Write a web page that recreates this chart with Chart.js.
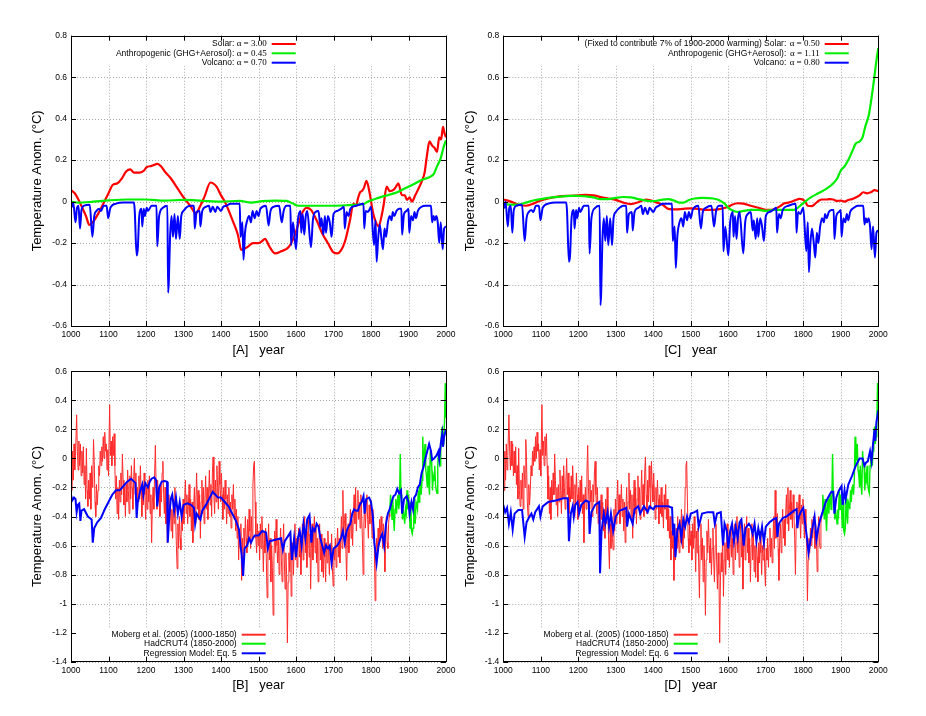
<!DOCTYPE html>
<html>
<head>
<meta charset="utf-8">
<script src="https://cdn.jsdelivr.net/npm/chart.js@4.4.1/dist/chart.umd.min.js"></script>
<style>
  body { margin: 0; background: #fff; width: 926px; height: 716px; position: relative; overflow: hidden; }
  canvas { position: absolute; }
</style>
</head>
<body>
<canvas id="panelA" width="463" height="358" style="left:0;top:0"></canvas>
<canvas id="panelC" width="463" height="358" style="left:463px;top:0"></canvas>
<canvas id="panelB" width="463" height="358" style="left:0;top:358px"></canvas>
<canvas id="panelD" width="463" height="358" style="left:463px;top:358px"></canvas>
<script>
// Axis ticks
const xTicks = [1000, 1100, 1200, 1300, 1400, 1500, 1600, 1700, 1800, 1900, 2000];
const yTicksTop = [-0.6, -0.4, -0.2, 0, 0.2, 0.4, 0.6, 0.8];
const yTicksBottom = [-1.4, -1.2, -1, -0.8, -0.6, -0.4, -0.2, 0, 0.2, 0.4, 0.6];

// Panel A forcings (alpha-scaled), [year, value]
const solarA = [[1000,0.055],[1010,0.04],[1018,0.016],[1030,-0.03],[1040,-0.07],[1049,-0.113],[1062,-0.09],[1075,-0.05],[1089,0.0],[1100,0.04],[1111,0.08],[1124,0.088],[1135,0.11],[1147,0.145],[1158,0.155],[1168,0.14],[1183,0.14],[1195,0.15],[1201,0.165],[1215,0.172],[1231,0.182],[1240,0.17],[1250,0.145],[1265,0.115],[1284,0.064],[1302,0.016],[1318,-0.02],[1333,-0.056],[1345,-0.02],[1356,0.024],[1372,0.092],[1388,0.072],[1400,0.03],[1410,0.0],[1432,-0.096],[1445,-0.16],[1454,-0.233],[1472,-0.217],[1485,-0.2],[1500,-0.2],[1510,-0.19],[1517,-0.18],[1530,-0.22],[1544,-0.25],[1560,-0.24],[1580,-0.22],[1595,-0.17],[1606,-0.11],[1615,-0.06],[1628,-0.03],[1640,-0.04],[1655,-0.09],[1669,-0.15],[1685,-0.2],[1700,-0.245],[1710,-0.25],[1720,-0.235],[1731,-0.19],[1744,-0.09],[1753,-0.01],[1760,-0.02],[1766,0.02],[1771,0.045],[1775,0.05],[1781,0.065],[1788,0.1],[1797,0.035],[1805,-0.05],[1811,-0.09],[1820,-0.12],[1827,-0.08],[1833,-0.024],[1842,0.072],[1850,0.05],[1860,0.056],[1866,0.07],[1873,0.088],[1882,0.032],[1890,0.03],[1896,0.008],[1903,0.02],[1909,0.0],[1918,0.03],[1926,0.06],[1936,0.1],[1943,0.14],[1949,0.22],[1956,0.29],[1963,0.27],[1969,0.26],[1976,0.24],[1982,0.31],[1987,0.3],[1992,0.36],[1996,0.33],[2000,0.31]];
const anthroA = [[1000,0.0],[1020,-0.005],[1060,0.0],[1100,0.006],[1150,0.01],[1200,0.01],[1250,0.005],[1300,0.008],[1350,0.004],[1400,0.0],[1450,0.003],[1480,-0.005],[1510,0.002],[1544,0.005],[1575,0.003],[1590,-0.008],[1606,-0.02],[1640,-0.02],[1700,-0.02],[1750,-0.016],[1780,-0.012],[1792,0.0],[1820,0.018],[1846,0.032],[1870,0.045],[1891,0.064],[1915,0.085],[1936,0.105],[1958,0.12],[1968,0.135],[1976,0.17],[1986,0.21],[1994,0.265],[2000,0.295]];

// Panel C forcings, [year, value]
const solarC = [[1000,0.01],[1020,0.0],[1040,-0.015],[1060,-0.02],[1080,-0.01],[1100,0.005],[1120,0.015],[1150,0.025],[1180,0.028],[1200,0.03],[1220,0.032],[1240,0.03],[1260,0.022],[1280,0.015],[1300,0.008],[1320,-0.005],[1340,-0.012],[1360,-0.003],[1380,0.01],[1395,0.005],[1410,-0.005],[1425,-0.015],[1440,-0.035],[1460,-0.038],[1480,-0.035],[1500,-0.033],[1520,-0.035],[1540,-0.04],[1560,-0.04],[1580,-0.035],[1600,-0.025],[1610,-0.015],[1625,-0.008],[1640,-0.01],[1660,-0.02],[1680,-0.03],[1700,-0.04],[1715,-0.04],[1725,-0.035],[1740,-0.02],[1750,-0.008],[1760,-0.005],[1770,0.0],[1780,0.008],[1790,0.013],[1798,0.01],[1805,0.0],[1812,-0.02],[1822,-0.022],[1832,-0.01],[1842,0.005],[1850,0.01],[1860,0.01],[1870,0.012],[1880,0.01],[1890,0.003],[1900,0.005],[1910,0.0],[1920,0.008],[1930,0.012],[1940,0.02],[1950,0.03],[1960,0.045],[1970,0.04],[1980,0.045],[1990,0.055],[2000,0.05]];
const anthroC = [[1000,-0.01],[1020,-0.015],[1040,-0.015],[1060,-0.005],[1080,0.005],[1100,0.012],[1130,0.02],[1160,0.025],[1180,0.028],[1200,0.028],[1220,0.025],[1240,0.02],[1260,0.012],[1280,0.012],[1300,0.018],[1320,0.022],[1340,0.02],[1360,0.012],[1380,0.005],[1400,0.002],[1420,0.008],[1440,0.012],[1455,0.005],[1470,-0.005],[1480,-0.005],[1495,0.008],[1510,0.015],[1530,0.018],[1560,0.015],[1575,0.008],[1590,-0.01],[1600,-0.03],[1615,-0.045],[1625,-0.05],[1640,-0.045],[1660,-0.04],[1680,-0.04],[1700,-0.045],[1720,-0.04],[1740,-0.04],[1760,-0.04],[1775,-0.04],[1785,-0.03],[1795,-0.015],[1805,0.0],[1820,0.02],[1840,0.04],[1860,0.06],[1875,0.08],[1890,0.11],[1900,0.15],[1910,0.17],[1920,0.2],[1930,0.24],[1940,0.28],[1950,0.29],[1958,0.31],[1965,0.36],[1975,0.42],[1982,0.5],[1988,0.58],[1995,0.68],[2000,0.74]];

// Volcanic forcing: shared years, values for panel A (alpha 0.70) and panel C (alpha 0.80)
const volcanoYears = [1000,1003,1006,1012,1016,1020,1024,1028,1035,1050,1057,1062,1068,1075,1080,1087,1095,1099,1105,1120,1140,1168,1170,1175,1178,1182,1188,1190,1194,1197,1202,1205,1215,1228,1230,1235,1245,1257,1259,1261,1264,1268,1272,1276,1280,1285,1290,1294,1300,1310,1320,1328,1330,1335,1343,1345,1350,1360,1368,1372,1378,1385,1390,1400,1406,1415,1425,1450,1452,1457,1460,1464,1470,1475,1480,1484,1490,1495,1500,1505,1520,1527,1532,1540,1555,1562,1567,1575,1585,1587,1592,1600,1605,1612,1614,1618,1622,1626,1630,1640,1645,1652,1660,1665,1668,1673,1677,1680,1685,1690,1695,1700,1710,1720,1728,1730,1735,1740,1745,1760,1780,1782,1786,1792,1800,1808,1812,1815,1819,1823,1828,1832,1836,1840,1845,1850,1855,1858,1862,1868,1875,1881,1883,1888,1895,1900,1902,1907,1912,1916,1920,1925,1935,1945,1960,1963,1967,1970,1974,1978,1982,1986,1991,1995,2000];
const volcanoA = [-0.005,-0.025,-0.005,-0.1,-0.03,-0.02,-0.13,-0.04,-0.02,-0.015,-0.17,-0.07,-0.045,-0.035,-0.045,-0.02,-0.02,-0.08,-0.03,-0.01,-0.005,-0.005,-0.045,-0.26,-0.23,-0.07,-0.035,-0.12,-0.035,-0.07,-0.03,-0.045,-0.02,-0.02,-0.215,-0.07,-0.03,-0.02,-0.44,-0.38,-0.18,-0.07,-0.17,-0.06,-0.18,-0.07,-0.18,-0.07,-0.045,-0.025,-0.02,-0.02,-0.13,-0.05,-0.045,-0.12,-0.045,-0.025,-0.02,-0.05,-0.025,-0.05,-0.025,-0.045,-0.025,-0.02,-0.01,-0.01,-0.17,-0.1,-0.28,-0.15,-0.09,-0.07,-0.1,-0.045,-0.08,-0.045,-0.07,-0.035,-0.02,-0.115,-0.045,-0.025,-0.02,-0.1,-0.045,-0.02,-0.02,-0.21,-0.1,-0.23,-0.09,-0.045,-0.15,-0.06,-0.16,-0.07,-0.045,-0.22,-0.09,-0.05,-0.045,-0.12,-0.08,-0.16,-0.07,-0.15,-0.07,-0.1,-0.17,-0.06,-0.045,-0.035,-0.025,-0.13,-0.05,-0.07,-0.035,-0.02,-0.01,-0.13,-0.045,-0.05,-0.025,-0.21,-0.09,-0.29,-0.18,-0.11,-0.18,-0.23,-0.13,-0.17,-0.1,-0.07,-0.09,-0.05,-0.07,-0.045,-0.035,-0.035,-0.16,-0.06,-0.045,-0.035,-0.15,-0.07,-0.09,-0.05,-0.08,-0.045,-0.025,-0.02,-0.02,-0.1,-0.07,-0.09,-0.07,-0.1,-0.2,-0.1,-0.23,-0.13,-0.12];
const volcanoC = [-0.005,-0.03,0.0,-0.12,-0.03,-0.02,-0.15,-0.04,-0.02,-0.015,-0.19,-0.08,-0.05,-0.04,-0.05,-0.02,-0.02,-0.09,-0.03,-0.01,-0.005,-0.005,-0.05,-0.29,-0.26,-0.08,-0.04,-0.13,-0.04,-0.08,-0.03,-0.05,-0.02,-0.02,-0.25,-0.08,-0.03,-0.02,-0.5,-0.44,-0.2,-0.08,-0.19,-0.07,-0.21,-0.08,-0.21,-0.08,-0.05,-0.03,-0.02,-0.02,-0.15,-0.06,-0.05,-0.14,-0.05,-0.03,-0.02,-0.06,-0.03,-0.06,-0.03,-0.05,-0.03,-0.02,-0.01,-0.01,-0.19,-0.12,-0.32,-0.17,-0.1,-0.08,-0.12,-0.05,-0.09,-0.05,-0.08,-0.04,-0.02,-0.13,-0.05,-0.03,-0.02,-0.12,-0.05,-0.02,-0.02,-0.24,-0.12,-0.26,-0.1,-0.05,-0.17,-0.07,-0.18,-0.08,-0.05,-0.25,-0.1,-0.06,-0.05,-0.14,-0.09,-0.18,-0.08,-0.17,-0.08,-0.12,-0.19,-0.07,-0.05,-0.04,-0.03,-0.15,-0.06,-0.08,-0.04,-0.02,-0.01,-0.15,-0.05,-0.06,-0.03,-0.24,-0.1,-0.34,-0.2,-0.13,-0.2,-0.27,-0.15,-0.2,-0.12,-0.08,-0.1,-0.06,-0.08,-0.05,-0.04,-0.04,-0.18,-0.07,-0.05,-0.04,-0.17,-0.08,-0.1,-0.06,-0.09,-0.05,-0.03,-0.02,-0.02,-0.11,-0.08,-0.1,-0.08,-0.12,-0.23,-0.12,-0.27,-0.15,-0.14];

// Moberg et al. (2005) reconstruction, 1000-1850, [year, value]
const moberg = [[1000,-0.1],[1002,-0.22],[1004,0.05],[1006,-0.15],[1008,0.1],[1010,-0.08],[1012,0.02],[1015,0.3],[1017,0.05],[1019,-0.08],[1021,0.12],[1023,-0.05],[1025,0.1],[1027,-0.12],[1029,0.05],[1031,-0.1],[1033,0.08],[1035,-0.18],[1037,-0.05],[1039,-0.28],[1041,0.07],[1043,-0.22],[1045,-0.33],[1047,-0.15],[1049,-0.28],[1051,-0.1],[1053,-0.35],[1055,-0.05],[1058,-0.2],[1060,0.13],[1062,-0.02],[1064,-0.3],[1066,-0.4],[1068,-0.18],[1070,-0.32],[1072,-0.22],[1074,-0.05],[1076,-0.12],[1078,0.05],[1080,-0.05],[1082,0.08],[1084,-0.02],[1086,0.15],[1088,0.0],[1090,0.18],[1092,0.05],[1094,0.1],[1096,-0.08],[1098,0.06],[1100,-0.12],[1103,0.37],[1105,0.02],[1107,0.12],[1109,-0.05],[1111,0.15],[1113,0.02],[1115,0.17],[1117,-0.05],[1119,-0.28],[1121,-0.12],[1123,-0.38],[1125,-0.2],[1127,-0.42],[1129,-0.15],[1131,-0.3],[1133,-0.1],[1135,-0.25],[1137,0.03],[1139,-0.15],[1141,-0.32],[1143,-0.2],[1145,-0.4],[1147,-0.18],[1149,-0.3],[1151,-0.08],[1153,-0.22],[1155,-0.38],[1157,-0.12],[1159,-0.28],[1161,-0.05],[1163,-0.2],[1165,-0.35],[1167,-0.15],[1169,0.0],[1171,-0.25],[1173,-0.1],[1175,-0.38],[1177,-0.2],[1179,-0.3],[1181,-0.12],[1183,-0.28],[1185,-0.05],[1187,-0.22],[1189,-0.4],[1191,-0.18],[1193,-0.32],[1195,-0.1],[1197,-0.25],[1199,-0.42],[1201,-0.2],[1203,-0.35],[1205,-0.15],[1207,-0.3],[1209,-0.12],[1211,-0.38],[1213,-0.25],[1215,-0.58],[1217,-0.3],[1219,-0.2],[1221,-0.35],[1223,-0.1],[1225,0.09],[1227,-0.2],[1229,-0.35],[1231,-0.15],[1233,-0.3],[1235,-0.22],[1237,-0.4],[1239,-0.18],[1241,-0.3],[1243,-0.1],[1245,-0.02],[1247,-0.25],[1249,-0.38],[1251,-0.2],[1253,-0.45],[1255,-0.3],[1257,-0.58],[1259,-0.35],[1261,-0.25],[1263,-0.42],[1265,-0.3],[1267,-0.5],[1269,-0.35],[1271,-0.55],[1273,-0.28],[1275,-0.45],[1277,-0.2],[1279,-0.38],[1281,-0.6],[1283,-0.76],[1285,-0.45],[1287,-0.62],[1289,-0.4],[1291,-0.55],[1293,-0.63],[1295,-0.35],[1297,-0.5],[1299,-0.28],[1301,-0.45],[1303,-0.3],[1305,-0.15],[1307,-0.38],[1309,-0.25],[1311,-0.45],[1313,-0.32],[1315,-0.18],[1317,-0.4],[1319,-0.28],[1321,-0.5],[1323,-0.3],[1325,-0.58],[1327,-0.35],[1329,-0.2],[1331,-0.45],[1333,-0.3],[1335,-0.1],[1337,-0.35],[1339,-0.22],[1341,-0.42],[1343,-0.25],[1345,-0.55],[1347,-0.3],[1349,-0.15],[1351,-0.38],[1353,-0.2],[1355,-0.45],[1357,-0.28],[1359,-0.12],[1361,-0.35],[1363,-0.2],[1365,-0.42],[1367,-0.25],[1369,-0.08],[1371,-0.32],[1373,-0.18],[1375,-0.4],[1377,-0.1],[1379,0.01],[1381,-0.25],[1383,-0.38],[1385,-0.15],[1387,-0.3],[1389,-0.05],[1391,-0.2],[1393,-0.35],[1395,-0.02],[1397,-0.18],[1399,-0.3],[1401,-0.1],[1403,-0.25],[1405,-0.42],[1407,-0.2],[1409,-0.35],[1411,-0.15],[1413,-0.28],[1415,-0.45],[1417,-0.25],[1419,-0.38],[1421,-0.2],[1423,-0.4],[1425,-0.3],[1427,-0.48],[1429,-0.25],[1431,-0.35],[1433,-0.18],[1435,-0.42],[1437,-0.28],[1439,-0.5],[1441,-0.35],[1443,-0.55],[1445,-0.4],[1447,-0.7],[1449,-0.5],[1451,-0.62],[1453,-0.45],[1455,-0.84],[1457,-0.55],[1459,-0.7],[1461,-0.48],[1463,-0.62],[1465,-0.4],[1467,-0.55],[1469,-0.65],[1471,-0.42],[1473,-0.58],[1475,-0.35],[1477,-0.5],[1479,-0.62],[1481,-0.4],[1483,-0.55],[1485,-0.2],[1487,-0.05],[1489,-0.02],[1491,-0.3],[1493,-0.55],[1495,-0.65],[1497,-0.45],[1499,-0.6],[1501,-0.5],[1503,-0.7],[1505,-0.45],[1507,-0.62],[1509,-0.4],[1511,-0.55],[1513,-0.78],[1515,-0.5],[1517,-0.65],[1519,-0.48],[1521,-0.72],[1523,-0.96],[1525,-0.6],[1527,-0.45],[1529,-0.7],[1531,-0.55],[1533,-0.85],[1535,-0.6],[1537,-0.75],[1539,-1.08],[1541,-0.7],[1543,-0.5],[1545,-0.65],[1547,-0.42],[1549,-0.6],[1551,-0.72],[1553,-0.55],[1555,-0.8],[1557,-0.62],[1559,-0.48],[1561,-0.7],[1563,-0.85],[1565,-0.6],[1567,-0.45],[1569,-0.72],[1571,-0.9],[1573,-0.65],[1575,-0.8],[1577,-1.27],[1579,-0.85],[1581,-0.65],[1583,-0.78],[1585,-0.5],[1587,-0.95],[1589,-0.7],[1591,-0.58],[1593,-0.8],[1595,-0.62],[1597,-0.45],[1599,-0.7],[1601,-0.55],[1603,-0.75],[1605,-0.6],[1607,-0.48],[1609,-0.68],[1611,-0.55],[1613,-0.8],[1615,-0.62],[1617,-0.45],[1619,-0.7],[1621,-0.58],[1623,-0.4],[1625,-0.65],[1627,-0.5],[1629,-0.75],[1631,-0.55],[1633,-0.42],[1635,-0.68],[1637,-0.52],[1639,-0.9],[1641,-0.62],[1643,-0.45],[1645,-0.7],[1647,-0.55],[1649,-0.4],[1651,-0.65],[1653,-0.48],[1655,-0.72],[1657,-0.55],[1659,-0.85],[1661,-0.6],[1663,-0.45],[1665,-0.7],[1667,-0.52],[1669,-0.78],[1671,-0.6],[1673,-0.82],[1675,-0.55],[1677,-0.68],[1679,-0.85],[1681,-0.58],[1683,-0.72],[1685,-0.5],[1687,-0.65],[1689,-0.8],[1691,-0.6],[1693,-0.7],[1695,-0.52],[1697,-0.75],[1699,-0.88],[1701,-0.62],[1703,-0.7],[1705,-0.55],[1707,-0.75],[1709,-0.6],[1711,-0.48],[1713,-0.68],[1715,-0.55],[1717,-0.72],[1719,-0.58],[1721,-0.4],[1723,-0.62],[1725,-0.22],[1727,-0.55],[1729,-0.45],[1731,-0.38],[1733,-0.62],[1735,-0.84],[1737,-0.55],[1739,-0.45],[1741,-0.65],[1743,-0.5],[1745,-0.35],[1747,-0.55],[1749,-0.42],[1751,-0.6],[1753,-0.38],[1755,-0.25],[1757,-0.45],[1759,-0.2],[1761,-0.5],[1763,-0.35],[1765,-0.22],[1767,-0.42],[1769,-0.3],[1771,-0.48],[1773,-0.25],[1775,-0.38],[1777,-0.55],[1779,-0.8],[1781,-0.45],[1783,-0.3],[1785,-0.48],[1787,-0.35],[1789,-0.25],[1791,-0.42],[1793,-0.55],[1795,-0.32],[1797,-0.45],[1799,-0.28],[1801,-0.4],[1803,-0.55],[1805,-0.35],[1807,-0.48],[1809,-0.62],[1811,-0.98],[1813,-0.7],[1815,-0.55],[1817,-0.65],[1819,-0.48],[1821,-0.6],[1823,-0.42],[1825,-0.55],[1827,-0.4],[1829,-0.5],[1831,-0.62],[1833,-0.45],[1835,-0.55],[1837,-0.78],[1839,-0.52],[1841,-0.4],[1843,-0.58],[1845,-0.62],[1847,-0.45],[1849,-0.38],[1850,-0.4]];

// HadCRUT4 instrumental record, 1850-2000, [year, value]
const hadcrut = [[1850,-0.38],[1852,-0.25],[1854,-0.32],[1856,-0.42],[1858,-0.28],[1860,-0.4],[1862,-0.5],[1864,-0.35],[1866,-0.28],[1868,-0.38],[1870,-0.3],[1872,-0.25],[1874,-0.35],[1876,-0.3],[1878,0.03],[1880,-0.25],[1882,-0.3],[1884,-0.42],[1886,-0.35],[1888,-0.4],[1890,-0.45],[1892,-0.35],[1894,-0.38],[1896,-0.22],[1898,-0.35],[1900,-0.25],[1902,-0.35],[1904,-0.48],[1906,-0.3],[1908,-0.5],[1910,-0.52],[1912,-0.48],[1914,-0.28],[1916,-0.38],[1918,-0.45],[1920,-0.3],[1922,-0.32],[1924,-0.35],[1926,-0.22],[1928,-0.3],[1930,-0.2],[1932,-0.18],[1934,-0.25],[1936,-0.15],[1938,0.15],[1940,-0.02],[1942,0.0],[1944,0.1],[1946,-0.08],[1948,-0.12],[1950,-0.2],[1952,-0.05],[1954,-0.18],[1956,-0.25],[1958,0.05],[1960,-0.02],[1962,-0.05],[1964,-0.22],[1966,-0.12],[1968,-0.15],[1970,-0.05],[1972,-0.18],[1974,-0.22],[1976,-0.24],[1978,-0.05],[1980,0.05],[1982,0.0],[1984,-0.05],[1986,0.05],[1988,0.18],[1990,0.22],[1992,0.1],[1994,0.15],[1996,0.25],[1998,0.52],[2000,0.28]];

// Regression model, Eq. 5 (panel B), [year, value]
const modelEq5 = [[1000,-0.25],[1003,-0.29],[1008,-0.27],[1012,-0.28],[1015,-0.37],[1018,-0.32],[1022,-0.31],[1025,-0.43],[1028,-0.36],[1035,-0.35],[1045,-0.4],[1055,-0.42],[1058,-0.58],[1062,-0.48],[1070,-0.44],[1080,-0.41],[1090,-0.35],[1100,-0.3],[1110,-0.25],[1120,-0.22],[1130,-0.22],[1140,-0.19],[1150,-0.16],[1160,-0.14],[1168,-0.16],[1172,-0.17],[1175,-0.41],[1178,-0.3],[1185,-0.22],[1190,-0.18],[1193,-0.25],[1198,-0.17],[1205,-0.2],[1210,-0.16],[1215,-0.14],[1222,-0.13],[1227,-0.15],[1230,-0.33],[1235,-0.2],[1242,-0.16],[1250,-0.155],[1256,-0.16],[1258,-0.58],[1262,-0.4],[1266,-0.28],[1270,-0.25],[1275,-0.36],[1280,-0.27],[1285,-0.38],[1290,-0.3],[1295,-0.4],[1300,-0.32],[1310,-0.31],[1320,-0.32],[1328,-0.34],[1331,-0.45],[1335,-0.38],[1345,-0.42],[1350,-0.36],[1360,-0.32],[1370,-0.27],[1378,-0.23],[1385,-0.25],[1392,-0.27],[1400,-0.27],[1410,-0.3],[1420,-0.33],[1430,-0.38],[1440,-0.43],[1448,-0.49],[1452,-0.6],[1455,-0.66],[1459,-0.81],[1463,-0.62],[1470,-0.6],[1475,-0.55],[1480,-0.58],[1485,-0.55],[1490,-0.53],[1500,-0.53],[1510,-0.5],[1520,-0.51],[1525,-0.62],[1530,-0.57],[1545,-0.56],[1560,-0.55],[1565,-0.63],[1570,-0.57],[1580,-0.53],[1585,-0.51],[1589,-0.7],[1595,-0.55],[1600,-0.68],[1605,-0.55],[1610,-0.5],[1615,-0.6],[1620,-0.45],[1625,-0.55],[1630,-0.42],[1636,-0.39],[1641,-0.58],[1645,-0.48],[1650,-0.5],[1655,-0.45],[1660,-0.47],[1665,-0.55],[1670,-0.6],[1675,-0.65],[1680,-0.6],[1685,-0.62],[1690,-0.6],[1695,-0.72],[1700,-0.62],[1710,-0.6],[1715,-0.58],[1720,-0.55],[1725,-0.5],[1730,-0.58],[1735,-0.5],[1740,-0.47],[1745,-0.45],[1750,-0.38],[1755,-0.35],[1760,-0.36],[1765,-0.36],[1770,-0.32],[1775,-0.3],[1780,-0.26],[1783,-0.38],[1787,-0.28],[1795,-0.27],[1800,-0.3],[1805,-0.4],[1809,-0.58],[1815,-0.72],[1820,-0.6],[1825,-0.55],[1830,-0.52],[1835,-0.6],[1840,-0.45],[1845,-0.38],[1850,-0.35],[1855,-0.3],[1860,-0.26],[1865,-0.25],[1870,-0.21],[1875,-0.24],[1880,-0.22],[1883,-0.38],[1888,-0.28],[1895,-0.26],[1900,-0.3],[1903,-0.38],[1908,-0.3],[1912,-0.35],[1915,-0.27],[1920,-0.25],[1925,-0.2],[1930,-0.18],[1935,-0.1],[1940,-0.06],[1945,0.0],[1950,0.05],[1955,0.1],[1960,0.05],[1963,-0.01],[1968,0.0],[1975,0.02],[1980,0.05],[1982,0.0],[1986,0.1],[1990,0.17],[1992,0.08],[1995,0.15],[2000,0.2]];

// Regression model, Eq. 6 (panel D), [year, value]
const modelEq6 = [[1000,-0.32],[1005,-0.37],[1010,-0.34],[1015,-0.45],[1020,-0.37],[1025,-0.49],[1030,-0.38],[1040,-0.355],[1050,-0.355],[1057,-0.54],[1062,-0.44],[1070,-0.4],[1075,-0.38],[1080,-0.42],[1085,-0.37],[1095,-0.33],[1099,-0.4],[1105,-0.33],[1120,-0.3],[1140,-0.29],[1160,-0.275],[1172,-0.275],[1175,-0.57],[1180,-0.38],[1185,-0.33],[1188,-0.4],[1192,-0.32],[1198,-0.3],[1202,-0.38],[1208,-0.32],[1220,-0.29],[1228,-0.3],[1230,-0.52],[1235,-0.37],[1245,-0.32],[1256,-0.3],[1258,-0.79],[1262,-0.5],[1268,-0.38],[1272,-0.45],[1278,-0.37],[1282,-0.47],[1287,-0.38],[1293,-0.5],[1300,-0.4],[1310,-0.36],[1320,-0.35],[1328,-0.34],[1330,-0.47],[1335,-0.38],[1345,-0.45],[1350,-0.35],[1360,-0.33],[1365,-0.38],[1375,-0.33],[1385,-0.37],[1390,-0.33],[1400,-0.35],[1405,-0.33],[1420,-0.33],[1440,-0.33],[1450,-0.34],[1453,-0.53],[1456,-0.45],[1459,-0.68],[1464,-0.5],[1470,-0.45],[1475,-0.55],[1480,-0.42],[1485,-0.47],[1490,-0.4],[1495,-0.44],[1500,-0.38],[1510,-0.37],[1517,-0.36],[1521,-0.47],[1530,-0.38],[1545,-0.37],[1560,-0.37],[1564,-0.45],[1570,-0.38],[1580,-0.37],[1586,-0.6],[1590,-0.45],[1596,-0.5],[1600,-0.62],[1605,-0.5],[1610,-0.45],[1615,-0.57],[1620,-0.47],[1625,-0.55],[1630,-0.44],[1635,-0.42],[1641,-0.6],[1646,-0.48],[1655,-0.45],[1660,-0.47],[1665,-0.52],[1670,-0.45],[1675,-0.57],[1680,-0.48],[1685,-0.55],[1690,-0.47],[1695,-0.58],[1700,-0.47],[1710,-0.44],[1720,-0.42],[1728,-0.41],[1731,-0.54],[1735,-0.45],[1745,-0.41],[1755,-0.4],[1765,-0.38],[1775,-0.36],[1782,-0.35],[1784,-0.48],[1788,-0.4],[1795,-0.36],[1800,-0.34],[1805,-0.45],[1809,-0.53],[1814,-0.65],[1820,-0.55],[1825,-0.47],[1830,-0.4],[1835,-0.56],[1840,-0.48],[1845,-0.42],[1850,-0.38],[1860,-0.3],[1870,-0.25],[1875,-0.23],[1880,-0.23],[1883,-0.38],[1888,-0.27],[1895,-0.22],[1902,-0.19],[1905,-0.32],[1910,-0.22],[1913,-0.28],[1920,-0.18],[1930,-0.12],[1940,-0.05],[1950,0.0],[1958,0.0],[1963,-0.05],[1967,-0.03],[1972,-0.02],[1978,0.05],[1982,-0.02],[1986,0.1],[1990,0.2],[1992,0.12],[1995,0.25],[2000,0.33]];

const SANS = '"Liberation Sans", Helvetica, Arial, sans-serif';
const SERIF = '"Liberation Serif", "Times New Roman", serif';

function toPoints(pairs) {
  return pairs.map(([x, y]) => ({ x, y }));
}

function line(data, color, width, smooth) {
  return {
    data: data,
    borderColor: color,
    borderWidth: width,
    pointRadius: 0,
    fill: false,
    tension: 0,
    cubicInterpolationMode: smooth ? 'monotone' : 'default'
  };
}

// grid, frame, inner ticks and key, gnuplot style
const framePlugin = {
  id: 'frame',
  beforeDatasetsDraw(chart, args, opts) {
    const { ctx, chartArea: a, scales: { x, y } } = chart;
    ctx.save();
    ctx.strokeStyle = '#a8a8a8';
    ctx.lineWidth = 1;
    ctx.setLineDash([1, 2]);
    ctx.beginPath();
    xTicks.forEach(v => {
      const px = Math.round(x.getPixelForValue(v)) + 0.5;
      ctx.moveTo(px, a.top);
      ctx.lineTo(px, a.bottom);
    });
    opts.yTicks.forEach(v => {
      const py = Math.round(y.getPixelForValue(v)) + 0.5;
      ctx.moveTo(a.left, py);
      ctx.lineTo(a.right, py);
    });
    ctx.stroke();
    ctx.setLineDash([]);
    const b = opts.keyBox;
    ctx.fillStyle = '#fff';
    ctx.fillRect(a.left + 1, a.top + b.y, b.w, b.h);
    ctx.restore();
  },
  afterDraw(chart, args, opts) {
    const { ctx, chartArea: a, scales: { x, y } } = chart;
    ctx.save();
    ctx.strokeStyle = '#000';
    ctx.lineWidth = 1;
    ctx.beginPath();
    xTicks.forEach(v => {
      const px = Math.round(x.getPixelForValue(v)) + 0.5;
      ctx.moveTo(px, a.bottom); ctx.lineTo(px, a.bottom - 5);
      ctx.moveTo(px, a.top); ctx.lineTo(px, a.top + 5);
    });
    opts.yTicks.forEach(v => {
      const py = Math.round(y.getPixelForValue(v)) + 0.5;
      ctx.moveTo(a.left, py); ctx.lineTo(a.left + 5, py);
      ctx.moveTo(a.right, py); ctx.lineTo(a.right - 5, py);
    });
    ctx.stroke();
    ctx.strokeRect(Math.round(a.left) + 0.5, Math.round(a.top) + 0.5, Math.round(a.right - a.left), Math.round(a.bottom - a.top));

    // key
    const k = opts.key;
    ctx.textBaseline = 'middle';
    ctx.textAlign = 'right';
    k.entries.forEach((e, i) => {
      const yy = a.top + k.rows[i];
      const xr = a.left + k.right;
      ctx.fillStyle = '#000';
      if (e.alpha) {
        ctx.font = '9px ' + SERIF;
        ctx.fillText(e.alpha, xr, yy);
        ctx.font = '8.5px ' + SANS;
        ctx.fillText(e.label, xr - k.alphaWidth, yy);
      } else {
        ctx.font = '8.5px ' + SANS;
        ctx.fillText(e.label, xr, yy);
      }
      ctx.strokeStyle = e.color;
      ctx.lineWidth = 2;
      ctx.beginPath();
      ctx.moveTo(xr + 5, yy);
      ctx.lineTo(xr + 29, yy);
      ctx.stroke();
    });
    ctx.restore();
  }
};

function makePanel(id, p) {
  const ctx = document.getElementById(id).getContext('2d');
  return new Chart(ctx, {
    type: 'line',
    data: { datasets: p.datasets },
    plugins: [framePlugin],
    options: {
      responsive: false,
      animation: false,
      devicePixelRatio: 1,
      layout: { padding: { left: 0, top: p.top, right: p.right, bottom: p.bottom } },
      plugins: {
        legend: { display: false },
        tooltip: { enabled: false },
        frame: { yTicks: p.yTicks, keyBox: p.keyBox, key: p.key }
      },
      scales: {
        x: {
          type: 'linear',
          min: 1000,
          max: 2000,
          afterBuildTicks: s => { s.ticks = xTicks.map(v => ({ value: v })); },
          afterFit: s => { s.height = 32; },
          grid: { display: false, drawTicks: false },
          border: { display: false },
          ticks: {
            padding: 4,
            color: '#000',
            maxRotation: 0,
            font: { family: SANS, size: 8.5 },
            callback: v => String(v)
          },
          title: {
            display: true,
            text: p.xTitle,
            color: '#000',
            font: { family: SANS, size: 13 },
            padding: { top: 0, bottom: 0 }
          }
        },
        y: {
          type: 'linear',
          min: p.yTicks[0],
          max: p.yTicks[p.yTicks.length - 1],
          afterBuildTicks: s => { s.ticks = p.yTicks.map(v => ({ value: v })); },
          afterFit: s => { s.width = p.axisWidth; },
          grid: { display: false, drawTicks: false },
          border: { display: false },
          ticks: {
            padding: 4,
            color: '#000',
            font: { family: SANS, size: 8.5 },
            callback: v => String(Math.round(v * 10) / 10)
          },
          title: {
            display: true,
            text: 'Temperature Anom. (°C)',
            color: '#000',
            font: { family: SANS, size: 13 },
            padding: { top: p.yTitlePad, bottom: 0 }
          }
        }
      }
    }
  });
}

const RED = '#ff0000', GREEN = '#00ee00', BLUE = '#0000ff', LIGHT_RED = '#ff2a2a';
const volcPts = vals => volcanoYears.map((yr, i) => ({ x: yr, y: vals[i] }));

makePanel('panelA', {
  top: 35.7, right: 17, bottom: 0, axisWidth: 71, yTitlePad: 30,
  yTicks: yTicksTop,
  xTitle: '[A]   year',
  keyBox: { y: 0, w: 373, h: 30 },
  key: {
    right: 195.7, alphaWidth: 32.4, rows: [8.3, 17.6, 27],
    entries: [
      { label: 'Solar:', alpha: 'α = 3.00', color: RED },
      { label: 'Anthropogenic (GHG+Aerosol):', alpha: 'α = 0.45', color: GREEN },
      { label: 'Volcano:', alpha: 'α = 0.70', color: BLUE }
    ]
  },
  datasets: [
    line(volcPts(volcanoA), BLUE, 2, true),
    line(toPoints(anthroA), GREEN, 2.2, true),
    line(toPoints(solarA), RED, 2.2, true)
  ]
});

makePanel('panelC', {
  top: 35.7, right: 47.7, bottom: 0, axisWidth: 40.3, yTitlePad: 0,
  yTicks: yTicksTop,
  xTitle: '[C]   year',
  keyBox: { y: 0, w: 373, h: 30 },
  key: {
    right: 316.4, alphaWidth: 33.4, rows: [8.3, 17.6, 27],
    entries: [
      { label: '(Fixed to contribute 7% of 1900-2000 warming) Solar:', alpha: 'α = 0.50', color: RED },
      { label: 'Anthropogenic (GHG+Aerosol):', alpha: 'α = 1.11', color: GREEN },
      { label: 'Volcano:', alpha: 'α = 0.80', color: BLUE }
    ]
  },
  datasets: [
    line(volcPts(volcanoC), BLUE, 2, true),
    line(toPoints(anthroC), GREEN, 2.2, true),
    line(toPoints(solarC), RED, 2.2, true)
  ]
});

makePanel('panelB', {
  top: 13.3, right: 17, bottom: 22.3, axisWidth: 71, yTitlePad: 30,
  yTicks: yTicksBottom,
  xTitle: '[B]   year',
  keyBox: { y: 256.5, w: 199, h: 34 },
  key: {
    right: 165.7, rows: [263.4, 272.4, 282],
    entries: [
      { label: 'Moberg et al. (2005) (1000-1850)', color: LIGHT_RED },
      { label: 'HadCRUT4 (1850-2000)', color: GREEN },
      { label: 'Regression Model: Eq. 5', color: BLUE }
    ]
  },
  datasets: [
    line(toPoints(modelEq5), BLUE, 2, false),
    line(toPoints(hadcrut), GREEN, 1.4, false),
    line(toPoints(moberg), LIGHT_RED, 1, false)
  ]
});

makePanel('panelD', {
  top: 13.3, right: 47.7, bottom: 22.3, axisWidth: 40.3, yTitlePad: 0,
  yTicks: yTicksBottom,
  xTitle: '[D]   year',
  keyBox: { y: 256.5, w: 199, h: 34 },
  key: {
    right: 165.4, rows: [263.4, 272.4, 282],
    entries: [
      { label: 'Moberg et al. (2005) (1000-1850)', color: LIGHT_RED },
      { label: 'HadCRUT4 (1850-2000)', color: GREEN },
      { label: 'Regression Model: Eq. 6', color: BLUE }
    ]
  },
  datasets: [
    line(toPoints(modelEq6), BLUE, 2, false),
    line(toPoints(hadcrut), GREEN, 1.4, false),
    line(toPoints(moberg), LIGHT_RED, 1, false)
  ]
});
</script>
</body>
</html>
